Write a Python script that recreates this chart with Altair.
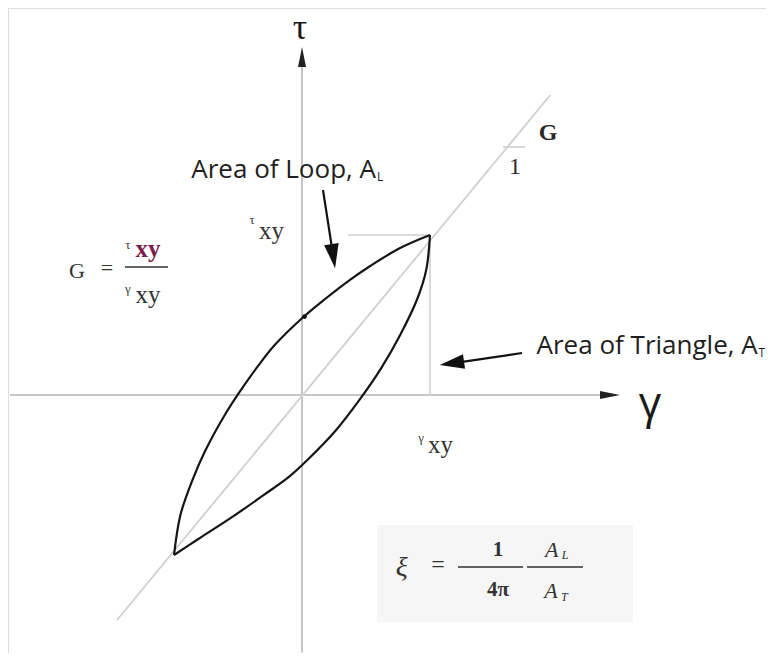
import altair as alt
import pandas as pd

# ---- data (normalised: gamma / gamma_xy , tau / tau_xy) ----
upper_gamma = [-1.0, -0.95, -0.86, -0.76, -0.60, -0.47, -0.34, -0.21, 0.0, 0.18, 0.375, 0.53, 0.77, 1.0]
upper_tau = [-1.0, -0.75, -0.54, -0.355, -0.12, 0.04, 0.185, 0.315, 0.48, 0.60, 0.72, 0.805, 0.92, 1.0]
lower_gamma = [-1.0, -0.81, -0.55, -0.29, -0.10, 0.05, 0.26, 0.44, 0.62, 0.77, 0.90, 0.97, 1.0]
lower_tau = [-1.0, -0.90, -0.765, -0.62, -0.51, -0.40, -0.225, -0.04, 0.17, 0.38, 0.60, 0.78, 1.0]
backbone_gamma = [-1.445, 1.94]
backbone_tau = [-1.406, 1.875]
peak_gamma = 1.0
peak_tau = 1.0
intercept_point = [0.02, 0.49]

X_DOM = [-2.297, 3.625]
Y_DOM = [-1.6125, 2.41875]
W, H = 758, 645

def X(f="x"):
    return alt.X(f"{f}:Q", scale=alt.Scale(domain=X_DOM, nice=False, zero=False), axis=None)

def Y(f="y"):
    return alt.Y(f"{f}:Q", scale=alt.Scale(domain=Y_DOM, nice=False, zero=False), axis=None)

# ---- segments (x, x2, y, y2) ----
def rules(rows, color, width):
    df = pd.DataFrame(rows, columns=["x", "x2", "y", "y2"])
    return alt.Chart(df).mark_rule(color=color, strokeWidth=width).encode(
        x=X(), x2="x2:Q", y=Y(), y2="y2:Q")

axes = rules([
    [0.0, 0.0, -1.61, 2.07],          # tau axis
    [-2.281, 2.36, 0.0, 0.0],         # gamma axis
], "#c6c6c6", 2)

guides = rules([
    [0.36, peak_gamma, peak_tau, peak_tau],
    [peak_gamma, peak_gamma, 0.0, peak_tau],
    [1.57, 1.742, 1.55, 1.55],
], "#cfcfcf", 1.6)

backbone = rules([[backbone_gamma[0], backbone_gamma[1], backbone_tau[0], backbone_tau[1]]],
                 "#d0d0d0", 1.8)

arrow_shafts = rules([
    [0.164, 0.244, 1.281, 0.868],
    [1.719, 1.171, 0.2625, 0.198],
], "#111111", 2.2)

frac_bars = rules([
    [-1.383, -1.047, 0.80, 0.80],
    [1.219, 1.727, -1.075, -1.075],
    [1.758, 2.195, -1.075, -1.075],
], "#333333", 1.6)

box = alt.Chart(pd.DataFrame({"x": [0.586], "x2": [2.586], "y": [-0.8125], "y2": [-1.419]})).mark_rect(
    color="#f6f6f6").encode(x=X(), x2="x2:Q", y=Y(), y2="y2:Q")

# ---- loop ----
loop_df = pd.concat([
    pd.DataFrame({"x": upper_gamma, "y": upper_tau, "branch": "upper"}),
    pd.DataFrame({"x": lower_gamma, "y": lower_tau, "branch": "lower"}),
])
loop = alt.Chart(loop_df).mark_line(interpolate="catmull-rom", color="#151515", strokeWidth=2.2).encode(
    x=X(), y=Y(), detail="branch:N")

dot = alt.Chart(pd.DataFrame({"x": [intercept_point[0]], "y": [intercept_point[1]]})).mark_point(
    filled=True, color="#111111", size=22, opacity=1).encode(x=X(), y=Y())

# ---- arrow heads ----
heads_df = pd.DataFrame({
    "x": [0.0, 2.406, 0.244, 1.171],
    "y": [2.1125, 0.0, 0.868, 0.198],
    "a": [0, 90, 171.3, 261.7],
    "s": [400, 400, 600, 600],
    "k": ["axis", "axis", "ann", "ann"],
})
heads_axis = alt.Chart(heads_df[heads_df.k == "axis"]).mark_point(
    shape="M0,-1L0.4,1L-0.4,1Z", filled=True, color="#222222", opacity=1).encode(
    x=X(), y=Y(), angle=alt.Angle("a:Q", scale=None), size=alt.Size("s:Q", scale=None))
heads_ann = alt.Chart(heads_df[heads_df.k == "ann"]).mark_point(
    shape="M0,-1L0.6,1L-0.6,1Z", filled=True, color="#111111", opacity=1).encode(
    x=X(), y=Y(), angle=alt.Angle("a:Q", scale=None), size=alt.Size("s:Q", scale=None))

# ---- text ----
def txt(rows, **kw):
    df = pd.DataFrame(rows, columns=["x", "y", "t"])
    base = dict(baseline="middle", align="center", color="#1a1a1a")
    base.update(kw)
    return alt.Chart(df).mark_text(**base).encode(x=X(), y=Y(), text="t:N")

SERIF = "Liberation Serif"
SANS = "Open Sans"

texts = [
    txt([[-0.016, 2.295, "τ"]], font=SERIF, fontSize=36),
    txt([[2.719, -0.06, "γ"]], font=SANS, fontSize=44),
    txt([[1.922, 1.6375, "G"]], font=SERIF, fontSize=24, fontWeight="bold", color="#2a2a2a"),
    txt([[1.664, 1.425, "1"]], font=SERIF, fontSize=24, color="#2a2a2a"),
    txt([[0.578, 1.406, "Area of Loop, A"]], font=SANS, fontSize=26, align="right", color="#1e1e1e"),
    txt([[0.586, 1.363, "L"]], font=SANS, fontSize=12, align="left", color="#1e1e1e"),
    txt([[3.56, 0.306, "Area of Triangle, A"]], font=SANS, fontSize=26, align="right", color="#1e1e1e"),
    txt([[3.566, 0.263, "T"]], font=SANS, fontSize=12, align="left", color="#1e1e1e"),
    # tau_xy near peak
    txt([[-0.39, 1.095, "τ"], [-1.36, 0.935, "τ"]], font=SERIF, fontSize=13, color="#444444"),
    txt([[-0.336, 1.025, "xy"]], font=SERIF, fontSize=25, align="left", color="#333333"),
    # G = tau_xy / gamma_xy
    txt([[-1.758, 0.775, "G"]], font=SERIF, fontSize=22, color="#333333"),
    txt([[-1.523, 0.794, "="]], font=SERIF, fontSize=22, color="#333333"),
    txt([[-1.30, 0.91, "xy"]], font=SERIF, fontSize=25, fontWeight="bold", align="left", color="#7b1c4c"),
    txt([[-1.36, 0.66, "γ"], [0.93, -0.27, "γ"]], font=SERIF, fontSize=13, color="#444444"),
    txt([[-1.30, 0.625, "xy"], [0.985, -0.315, "xy"]], font=SERIF, fontSize=25, align="left", color="#333333"),
    # damping formula
    txt([[0.78, -1.081, "ξ"]], font=SERIF, fontSize=28, fontStyle="italic", color="#333333"),
    txt([[1.0625, -1.0625, "="]], font=SERIF, fontSize=24, color="#333333"),
    txt([[1.531, -0.969, "1"], [1.531, -1.219, "4π"]], font=SERIF, fontSize=21, fontWeight="bold", color="#333333"),
    txt([[1.95, -0.969, "A"], [1.945, -1.225, "A"]], font=SERIF, fontSize=22, fontStyle="italic", color="#333333"),
    txt([[2.055, -1.0, "L"], [2.05, -1.26, "T"]], font=SERIF, fontSize=12, fontStyle="italic", color="#333333"),
]

chart = alt.layer(
    box, axes, backbone, guides, loop, dot, arrow_shafts, heads_axis, heads_ann, frac_bars, *texts
).properties(
    width=W, height=H, padding=0, autosize=alt.AutoSizeParams(type="none")
).configure_view(stroke=None).configure(background="white")

chart.save("out.html", embed_options={"renderer": "svg", "actions": False})
